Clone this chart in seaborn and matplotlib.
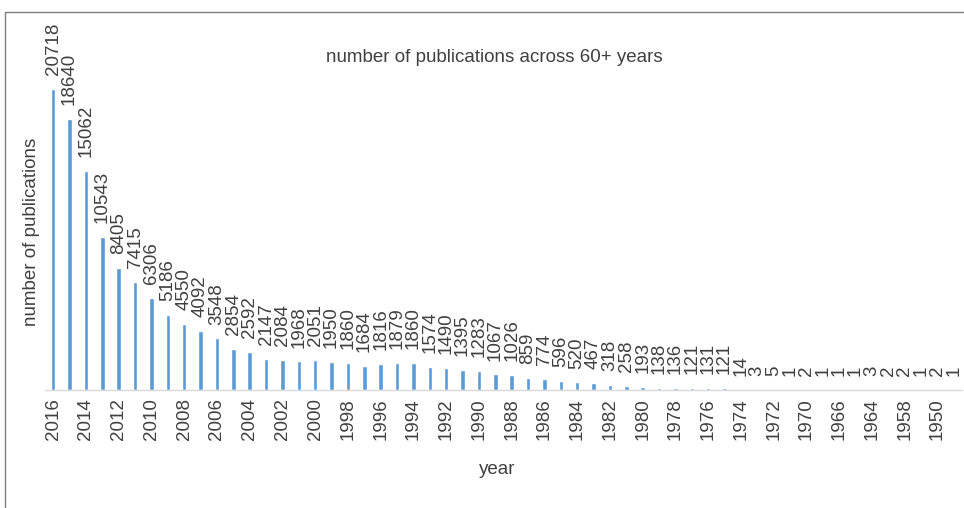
import matplotlib
matplotlib.use("Agg")
import matplotlib.pyplot as plt
from matplotlib.lines import Line2D
import seaborn as sns
import pandas as pd

# Publication counts per year, newest first
years = [
    "2016", "2015", "2014", "2013", "2012", "2011", "2010", "2009", "2008", "2007",
    "2006", "2005", "2004", "2003", "2002", "2001", "2000", "1999", "1998", "1997",
    "1996", "1995", "1994", "1993", "1992", "1991", "1990", "1989", "1988", "1987",
    "1986", "1985", "1984", "1983", "1982", "1981", "1980", "1979", "1978", "1977",
    "1976", "1975", "1974", "1973", "1972", "1971", "1970", "1968", "1966", "1965",
    "1964", "1960", "1958", "1955", "1950", "1948",
]
counts = [
    20718, 18640, 15062, 10543, 8405, 7415, 6306, 5186, 4550, 4092,
    3548, 2854, 2592, 2147, 2084, 1968, 2051, 1950, 1860, 1684,
    1816, 1879, 1860, 1574, 1490, 1395, 1283, 1067, 1026, 859,
    774, 596, 520, 467, 318, 258, 193, 138, 136, 121,
    131, 121, 14, 3, 5, 1, 2, 1, 1, 1,
    3, 2, 2, 1, 2, 1,
]
title = "number of publications across 60+ years"
x_title = "year"
y_title = "number of publications"

BAR = "#5B9BD5"
TEXT = "#404040"
FS = 13.5

sns.set_theme(style="white")
plt.rcParams["font.family"] = ["Liberation Sans", "DejaVu Sans"]

df = pd.DataFrame({"year": years, "count": counts})

W, H = 964, 508
fig = plt.figure(figsize=(W / 100, H / 100), dpi=100)
ax = fig.add_axes([45 / W, 1 - 390 / H, (962 - 45) / W, (390 - 26.8) / H])

sns.barplot(data=df, x="year", y="count", order=years, color=BAR,
            saturation=1, width=0.27, ax=ax)

ax.bar_label(ax.containers[0], labels=[str(v) for v in counts], rotation=90,
             padding=10, fontsize=FS, color=TEXT)

ax.set_ylim(0, 25000)
ax.set_xlim(-0.5, len(years) - 0.5)
ax.set_yticks([])
ax.set_xticks(range(0, len(years), 2))
ax.set_xticklabels(years[::2], rotation=90, fontsize=FS, color=TEXT)
ax.tick_params(axis="x", length=0, pad=6)
ax.set_xlabel("")
ax.set_ylabel("")

for side in ["top", "right", "left"]:
    ax.spines[side].set_visible(False)
ax.spines["bottom"].set_color("#D9D9D9")
ax.spines["bottom"].set_linewidth(1)

fig.text(494.5 / W, 1 - 57 / H, title, ha="center", va="center",
         fontsize=FS, color=TEXT)
fig.text(497 / W, 1 - 470 / H, x_title, ha="center", va="center",
         fontsize=FS, color=TEXT)
fig.text(32 / W, 1 - 232 / H, y_title, ha="center", va="center",
         rotation=90, fontsize=FS, color=TEXT)

# Chart-area frame along the left and top edges
fig.add_artist(Line2D([5 / W, 5 / W, 1.0], [0.0, 1 - 12 / H, 1 - 12 / H],
                      transform=fig.transFigure, color="#7F7F7F", linewidth=1))

fig.savefig("out.png", dpi=100)
